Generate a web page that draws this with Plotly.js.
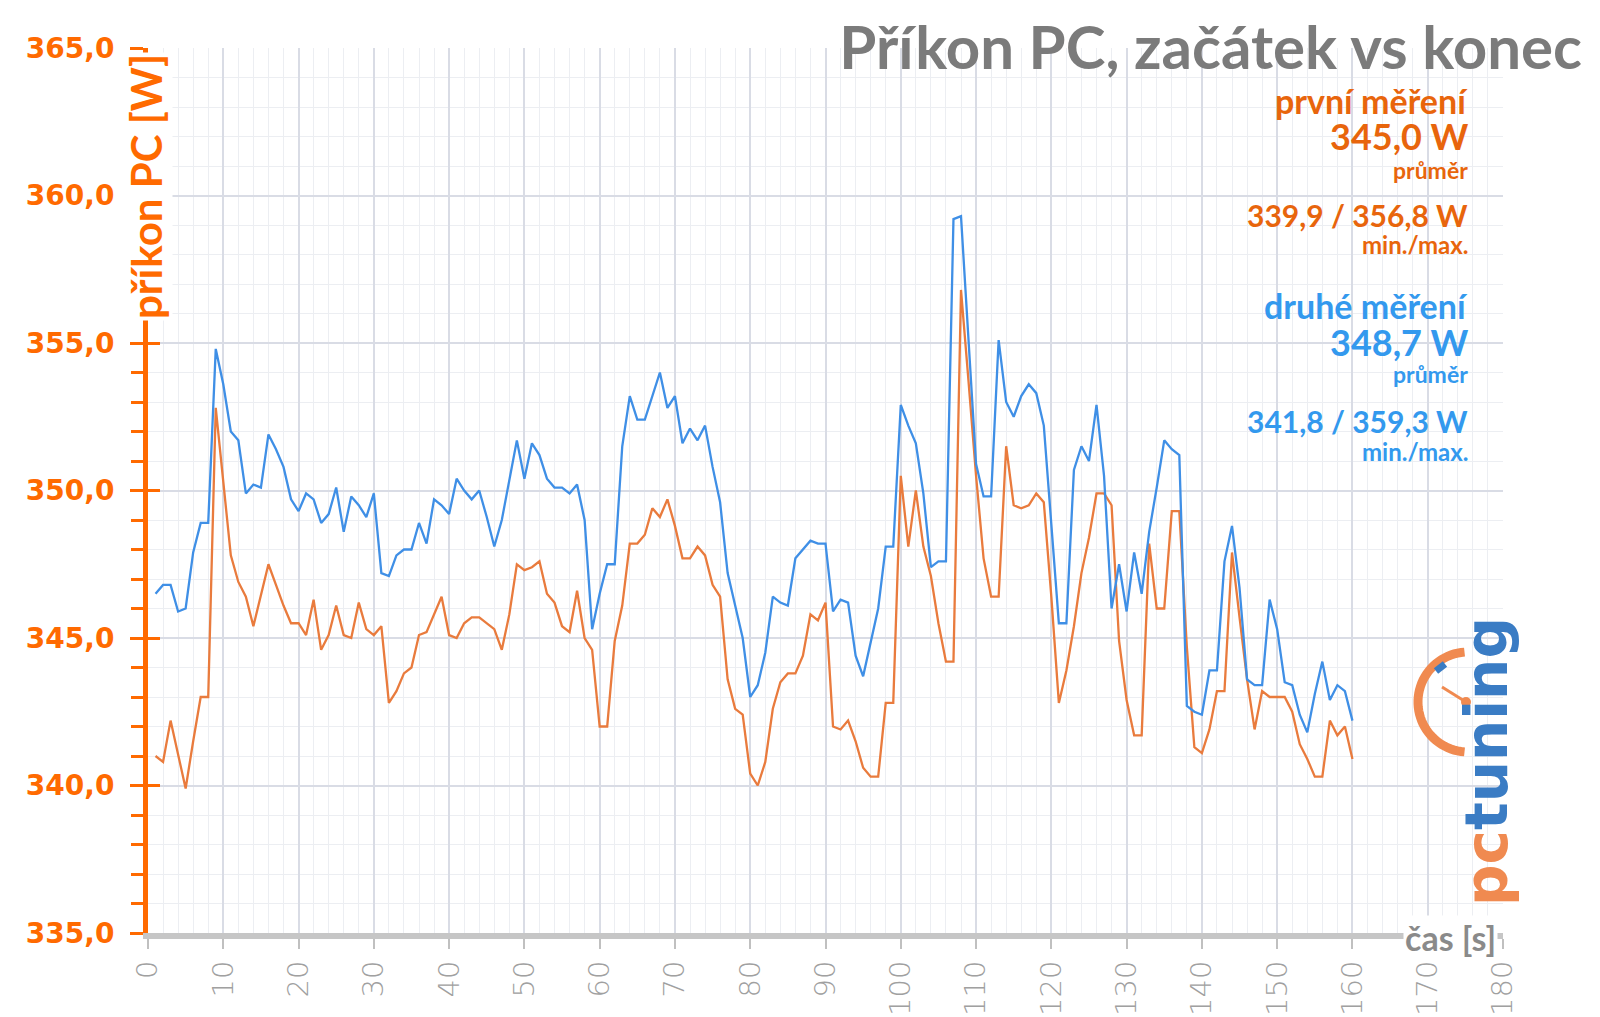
<!DOCTYPE html>
<html>
<head>
<meta charset="utf-8">
<script src="https://cdn.plot.ly/plotly-3.0.1.min.js"></script>
<style>html,body{margin:0;padding:0;background:#fff;}#chart{width:1600px;height:1017px;}</style>
</head>
<body>
<div id="chart"></div>
<script>
// ---- data ----
const timeS = [1,2,3,4,5,6,7,8,9,10,11,12,13,14,15,16,17,18,19,20,
  21,22,23,24,25,26,27,28,29,30,31,32,33,34,35,36,37,38,39,40,
  41,42,43,44,45,46,47,48,49,50,51,52,53,54,55,56,57,58,59,60,
  61,62,63,64,65,66,67,68,69,70,71,72,73,74,75,76,77,78,79,80,
  81,82,83,84,85,86,87,88,89,90,91,92,93,94,95,96,97,98,99,100,
  101,102,103,104,105,106,107,108,109,110,111,112,113,114,115,116,117,118,119,120,
  121,122,123,124,125,126,127,128,129,130,131,132,133,134,135,136,137,138,139,140,
  141,142,143,144,145,146,147,148,149,150,151,152,153,154,155,156,157,158,159,160];

const prvniMereni = [341.0,340.8,342.2,341.0,339.9,341.5,343.0,343.0,352.8,350.3,
  347.8,346.9,346.4,345.4,346.4,347.5,346.8,346.1,345.5,345.5,
  345.1,346.3,344.6,345.1,346.1,345.1,345.0,346.2,345.3,345.1,
  345.4,342.8,343.2,343.8,344.0,345.1,345.2,345.8,346.4,345.1,
  345.0,345.5,345.7,345.7,345.5,345.3,344.6,345.8,347.5,347.3,
  347.4,347.6,346.5,346.2,345.4,345.2,346.6,345.0,344.6,342.0,
  342.0,344.9,346.1,348.2,348.2,348.5,349.4,349.1,349.7,348.8,
  347.7,347.7,348.1,347.8,346.8,346.4,343.6,342.6,342.4,340.4,
  340.0,340.8,342.6,343.5,343.8,343.8,344.4,345.8,345.6,346.2,
  342.0,341.9,342.2,341.5,340.6,340.3,340.3,342.8,342.8,350.5,
  348.1,350.0,348.1,347.1,345.5,344.2,344.2,356.8,353.7,350.5,
  347.7,346.4,346.4,351.5,349.5,349.4,349.5,349.9,349.6,346.4,
  342.8,343.9,345.4,347.2,348.4,349.9,349.9,349.5,344.9,342.9,
  341.7,341.7,348.2,346.0,346.0,349.3,349.3,344.7,341.3,341.1,
  341.9,343.2,343.2,347.9,345.7,343.6,341.9,343.2,343.0,343.0,
  343.0,342.5,341.4,340.9,340.3,340.3,342.2,341.7,342.0,340.9];

const druheMereni = [346.5,346.8,346.8,345.9,346.0,347.9,348.9,348.9,354.8,353.6,
  352.0,351.7,349.9,350.2,350.1,351.9,351.4,350.8,349.7,349.3,
  349.9,349.7,348.9,349.2,350.1,348.6,349.8,349.5,349.1,349.9,
  347.2,347.1,347.8,348.0,348.0,348.9,348.2,349.7,349.5,349.2,
  350.4,350.0,349.7,350.0,349.1,348.1,349.0,350.4,351.7,350.4,
  351.6,351.2,350.4,350.1,350.1,349.9,350.2,349.0,345.3,346.5,
  347.5,347.5,351.5,353.2,352.4,352.4,353.2,354.0,352.8,353.2,
  351.6,352.1,351.7,352.2,350.8,349.6,347.2,346.1,345.0,343.0,
  343.4,344.5,346.4,346.2,346.1,347.7,348.0,348.3,348.2,348.2,
  345.9,346.3,346.2,344.4,343.7,344.9,346.0,348.1,348.1,352.9,
  352.2,351.6,349.9,347.4,347.6,347.6,359.2,359.3,355.0,350.9,
  349.8,349.8,355.1,353.0,352.5,353.2,353.6,353.3,352.2,348.7,
  345.5,345.5,350.7,351.5,351.0,352.9,350.5,346.0,347.5,345.9,
  347.9,346.5,348.6,350.1,351.7,351.4,351.2,342.7,342.5,342.4,
  343.9,343.9,347.6,348.8,346.7,343.6,343.4,343.4,346.3,345.3,
  343.5,343.4,342.4,341.8,343.1,344.2,342.9,343.4,343.2,342.2];

const seriesNames = ["první měření", "druhé měření"];
const yTickRange = [335, 365];
const xTickRange = [0, 180];
const legendLines1 = ["první měření", "345,0 W", "průměr", "339,9 / 356,8 W", "min./max."];
const legendLines2 = ["druhé měření", "348,7 W", "průměr", "341,8 / 359,3 W", "min./max."];

// ---- layout helpers (pixel -> paper) ----
const L = 148, R = 1503, T = 48, B = 933;
const px = x => (x - L) / (R - L);
const py = y => (B - y) / (B - T);

const ORANGE_AX = '#ff6a00';
const ORANGE_TXT = '#e8650c';
const BLUE_TXT = '#3399ee';

const traces = [
  {x: timeS, y: prvniMereni, name: seriesNames[0], type: 'scatter', mode: 'lines',
   line: {color: '#e97b3d', width: 2.3}, hoverinfo: 'x+y'},
  {x: timeS, y: druheMereni, name: seriesNames[1], type: 'scatter', mode: 'lines',
   line: {color: '#3f8fe6', width: 2.3}, hoverinfo: 'x+y'},
  {x: [], y: [], yaxis: 'y2', showlegend: false, hoverinfo: 'skip'}
];

const ann = [];
function legendBlock(lines, yc, color) {
  const sizes = [34, 36, 23, 30, 24];
  lines.forEach((t, i) => {
    ann.push({xref: 'paper', yref: 'paper', x: px(1470), y: py(yc[i]),
      xanchor: 'right', yanchor: 'middle', showarrow: false, text: t,
      font: {family: 'Lato', size: sizes[i], color: color, weight: 'bold'}});
  });
}
legendBlock(legendLines1, [100, 136, 170, 215, 245], ORANGE_TXT);
legendBlock(legendLines2, [305, 342, 374, 421, 451], BLUE_TXT);

// y-axis title (covers the axis line above 355)
ann.push({xref: 'paper', yref: 'paper', x: px(146), y: py(187), xanchor: 'center', yanchor: 'middle',
  showarrow: false, textangle: -90, text: 'příkon PC [W]', bgcolor: '#ffffff',
  font: {family: 'Lato', size: 42, color: ORANGE_AX, weight: 'bold'}});
// x-axis title
ann.push({xref: 'paper', yref: 'paper', x: px(1450), y: py(937), xanchor: 'center', yanchor: 'middle',
  showarrow: false, text: 'čas [s]', bgcolor: '#ffffff',
  font: {family: 'Lato', size: 34, color: '#8a8a8a', weight: 'bold'}});
// logo text
ann.push({xref: 'paper', yref: 'paper', x: px(1487), y: py(762), xanchor: 'center', yanchor: 'middle',
  showarrow: false, textangle: -90,
  text: '<span style="color:#f08a50">pc</span><span style="color:#3a7cc4">tuning</span>',
  font: {family: 'DejaVu Sans', size: 58, weight: 'bold'}});

// logo shapes
const cx = 1468, cy = 702, r = 50;
let arc = '';
for (let a = -86; a <= 86; a += 4) {
  const rad = a * Math.PI / 180;
  const X = cx - r * Math.cos(rad), Y = cy + r * Math.sin(rad);
  arc += (arc ? ' L ' : 'M ') + px(X).toFixed(5) + ',' + py(Y).toFixed(5);
}
const shapes = [
  {type: 'path', xref: 'paper', yref: 'paper', path: arc, line: {color: '#f08a50', width: 9}},
  {type: 'line', xref: 'paper', yref: 'paper', x0: px(1436), y0: py(671), x1: px(1445), y1: py(664),
   line: {color: '#3a7cc4', width: 7}},
  {type: 'line', xref: 'paper', yref: 'paper', x0: px(1442), y0: py(687), x1: px(1466), y1: py(702),
   line: {color: '#f08a50', width: 3}},
  {type: 'circle', xref: 'paper', yref: 'paper', x0: px(1461), y0: py(697), x1: px(1471), y1: py(707),
   fillcolor: '#f08a50', line: {width: 0}}
];

const layout = {
  width: 1600, height: 1017,
  margin: {l: L, r: 1600 - R, t: T, b: 1017 - B},
  paper_bgcolor: '#ffffff', plot_bgcolor: '#ffffff',
  separators: ', ',
  showlegend: false,
  title: {text: 'Příkon PC, začátek vs konec', xref: 'container', x: 1582 / 1600, xanchor: 'right',
    yref: 'container', y: 1 - 48 / 1017, yanchor: 'middle',
    font: {family: 'Lato', size: 60, color: '#7b7b7b', weight: 'bold'}},
  xaxis: {range: xTickRange, tick0: 0, dtick: 10, showgrid: true, gridcolor: '#d9dce5', gridwidth: 2,
    minor: {dtick: 2, showgrid: true, gridcolor: '#eceef2', gridwidth: 1, ticks: ''},
    showline: true, linecolor: '#c6c6c6', linewidth: 6,
    ticks: 'outside', ticklen: 10, tickwidth: 2, tickcolor: '#c0c0c0',
    tickangle: -90, tickfont: {family: 'DejaVu Sans', size: 29, color: '#a0a0a0', weight: 300},
    zeroline: false, fixedrange: true},
  yaxis: {range: yTickRange, tick0: 335, dtick: 5, tickformat: '.1f',
    showgrid: true, gridcolor: '#d9dce5', gridwidth: 2,
    minor: {dtick: 1, ticks: 'outside', ticklen: 12, tickwidth: 3, tickcolor: ORANGE_AX,
      showgrid: true, gridcolor: '#eceef2', gridwidth: 1},
    showline: true, linecolor: ORANGE_AX, linewidth: 5,
    ticks: 'outside', ticklen: 13, tickwidth: 3, tickcolor: ORANGE_AX,
    tickfont: {family: 'DejaVu Sans', size: 28, color: ORANGE_AX, weight: 'bold'},
    ticklabelstandoff: 10, zeroline: false, fixedrange: true},
  yaxis2: {range: yTickRange, overlaying: 'y', side: 'left', tick0: 335, dtick: 5,
    ticks: 'inside', ticklen: 12, tickwidth: 3, tickcolor: ORANGE_AX,
    showticklabels: false, showgrid: false, showline: false, zeroline: false, fixedrange: true},
  annotations: ann,
  shapes: shapes
};

Plotly.newPlot('chart', traces, layout, {displayModeBar: false, staticPlot: true});
</script>
</body>
</html>
